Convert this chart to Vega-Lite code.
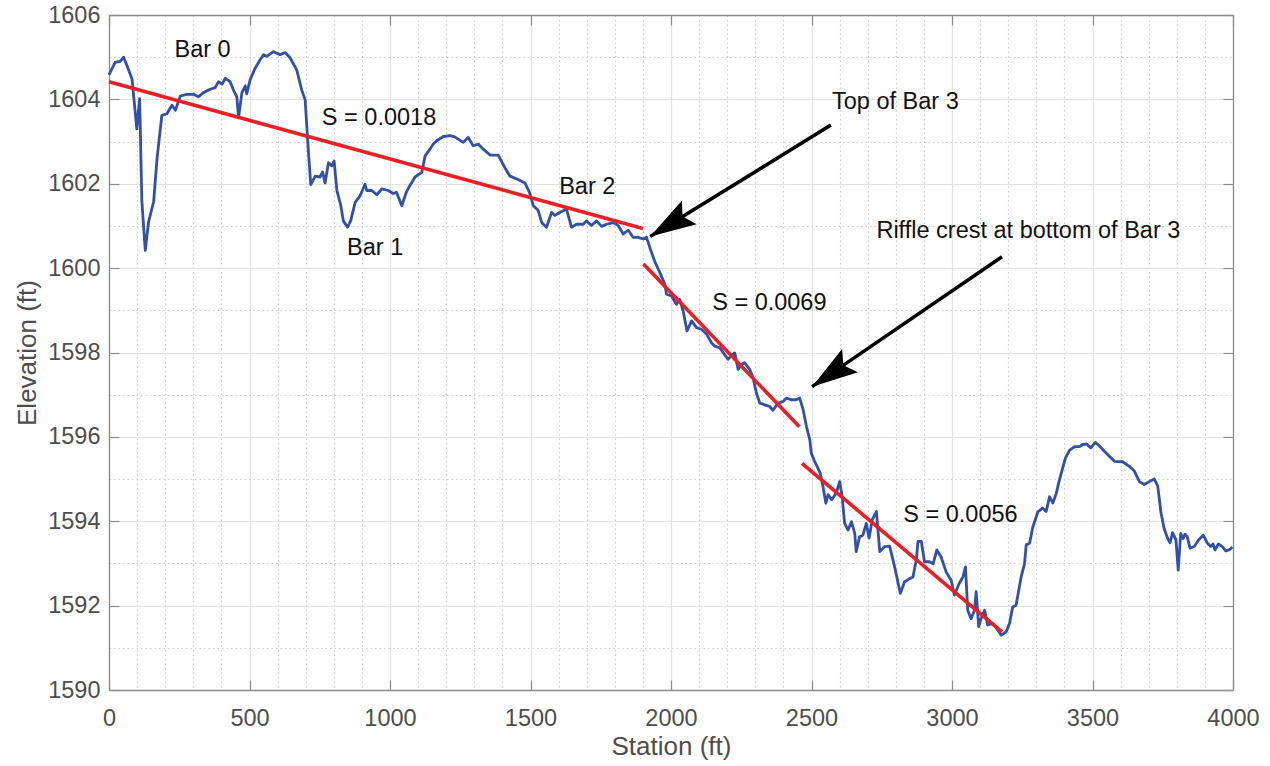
{
  "$schema": "https://vega.github.io/schema/vega-lite/v6.json",
  "width": 1124,
  "height": 675,
  "autosize": {"type": "none"},
  "padding": {"left": 109, "top": 15, "right": 37, "bottom": 76},
  "background": "white",
  "config": {"view": {"stroke": null}, "font": "Liberation Sans"},
  "datasets": {
    "profile": [
      {"station":0,"elevation":1604.58},{"station":22,"elevation":1604.88},{"station":40,"elevation":1604.9},{"station":52,"elevation":1605.0},{"station":64,"elevation":1604.8},{"station":82,"elevation":1604.48},{"station":99,"elevation":1603.3},{"station":109,"elevation":1604.02},{"station":117,"elevation":1601.58},{"station":129,"elevation":1600.42},{"station":141,"elevation":1601.1},{"station":159,"elevation":1601.58},{"station":171,"elevation":1602.6},{"station":188,"elevation":1603.62},{"station":206,"elevation":1603.66},{"station":224,"elevation":1603.86},{"station":236,"elevation":1603.74},{"station":254,"elevation":1604.08},{"station":277,"elevation":1604.12},{"station":301,"elevation":1604.12},{"station":318,"elevation":1604.06},{"station":336,"elevation":1604.16},{"station":360,"elevation":1604.24},{"station":378,"elevation":1604.28},{"station":390,"elevation":1604.42},{"station":402,"elevation":1604.36},{"station":414,"elevation":1604.5},{"station":431,"elevation":1604.42},{"station":443,"elevation":1604.22},{"station":455,"elevation":1604.06},{"station":461,"elevation":1603.56},{"station":473,"elevation":1604.16},{"station":485,"elevation":1604.32},{"station":490,"elevation":1604.13},{"station":502,"elevation":1604.46},{"station":520,"elevation":1604.74},{"station":538,"elevation":1604.94},{"station":550,"elevation":1605.06},{"station":561,"elevation":1605.02},{"station":585,"elevation":1605.13},{"station":609,"elevation":1605.06},{"station":627,"elevation":1605.11},{"station":645,"elevation":1604.98},{"station":668,"elevation":1604.7},{"station":686,"elevation":1604.22},{"station":698,"elevation":1603.99},{"station":704,"elevation":1603.36},{"station":710,"elevation":1602.73},{"station":718,"elevation":1601.98},{"station":734,"elevation":1602.18},{"station":751,"elevation":1602.16},{"station":760,"elevation":1602.28},{"station":769,"elevation":1602.02},{"station":781,"elevation":1602.5},{"station":793,"elevation":1602.42},{"station":801,"elevation":1602.54},{"station":811,"elevation":1601.84},{"station":825,"elevation":1601.48},{"station":834,"elevation":1601.12},{"station":849,"elevation":1600.97},{"station":860,"elevation":1601.12},{"station":876,"elevation":1601.56},{"station":894,"elevation":1601.72},{"station":911,"elevation":1601.99},{"station":917,"elevation":1601.84},{"station":935,"elevation":1601.84},{"station":953,"elevation":1601.74},{"station":971,"elevation":1601.88},{"station":994,"elevation":1601.84},{"station":1011,"elevation":1601.77},{"station":1023,"elevation":1601.8},{"station":1042,"elevation":1601.48},{"station":1058,"elevation":1601.8},{"station":1071,"elevation":1601.96},{"station":1089,"elevation":1602.16},{"station":1113,"elevation":1602.27},{"station":1125,"elevation":1602.66},{"station":1142,"elevation":1602.82},{"station":1154,"elevation":1602.94},{"station":1166,"elevation":1603.02},{"station":1190,"elevation":1603.12},{"station":1214,"elevation":1603.14},{"station":1230,"elevation":1603.11},{"station":1261,"elevation":1602.98},{"station":1278,"elevation":1603.1},{"station":1296,"elevation":1602.9},{"station":1314,"elevation":1602.94},{"station":1332,"elevation":1602.82},{"station":1356,"elevation":1602.68},{"station":1385,"elevation":1602.68},{"station":1409,"elevation":1602.38},{"station":1427,"elevation":1602.18},{"station":1456,"elevation":1602.1},{"station":1480,"elevation":1602.02},{"station":1496,"elevation":1601.8},{"station":1510,"elevation":1601.48},{"station":1527,"elevation":1601.37},{"station":1540,"elevation":1601.08},{"station":1557,"elevation":1600.97},{"station":1575,"elevation":1601.32},{"station":1587,"elevation":1601.25},{"station":1604,"elevation":1601.32},{"station":1628,"elevation":1601.4},{"station":1646,"elevation":1600.97},{"station":1664,"elevation":1601.04},{"station":1688,"elevation":1601.04},{"station":1699,"elevation":1601.12},{"station":1717,"elevation":1601.01},{"station":1735,"elevation":1601.12},{"station":1753,"elevation":1600.99},{"station":1771,"elevation":1601.04},{"station":1794,"elevation":1601.08},{"station":1812,"elevation":1601.01},{"station":1830,"elevation":1600.81},{"station":1848,"elevation":1600.9},{"station":1865,"elevation":1600.73},{"station":1883,"elevation":1600.73},{"station":1901,"elevation":1600.69},{"station":1913,"elevation":1600.73},{"station":1925,"elevation":1600.48},{"station":1942,"elevation":1600.16},{"station":1960,"elevation":1599.9},{"station":1978,"elevation":1599.62},{"station":1984,"elevation":1599.38},{"station":2002,"elevation":1599.34},{"station":2019,"elevation":1599.14},{"station":2031,"elevation":1599.26},{"station":2043,"elevation":1598.99},{"station":2057,"elevation":1598.51},{"station":2073,"elevation":1598.75},{"station":2091,"elevation":1598.59},{"station":2108,"elevation":1598.55},{"station":2127,"elevation":1598.43},{"station":2144,"elevation":1598.23},{"station":2156,"elevation":1598.15},{"station":2174,"elevation":1598.11},{"station":2191,"elevation":1597.95},{"station":2203,"elevation":1597.84},{"station":2215,"elevation":1597.92},{"station":2227,"elevation":1597.99},{"station":2239,"elevation":1597.6},{"station":2251,"elevation":1597.72},{"station":2262,"elevation":1597.76},{"station":2280,"elevation":1597.6},{"station":2292,"elevation":1597.4},{"station":2304,"elevation":1597.04},{"station":2316,"elevation":1596.8},{"station":2334,"elevation":1596.76},{"station":2351,"elevation":1596.72},{"station":2363,"elevation":1596.63},{"station":2381,"elevation":1596.8},{"station":2399,"elevation":1596.84},{"station":2411,"elevation":1596.92},{"station":2428,"elevation":1596.88},{"station":2446,"elevation":1596.88},{"station":2458,"elevation":1596.92},{"station":2470,"elevation":1596.65},{"station":2482,"elevation":1596.25},{"station":2494,"elevation":1595.93},{"station":2499,"elevation":1595.62},{"station":2511,"elevation":1595.42},{"station":2523,"elevation":1595.26},{"station":2531,"elevation":1595.14},{"station":2541,"elevation":1594.82},{"station":2551,"elevation":1594.43},{"station":2559,"elevation":1594.63},{"station":2572,"elevation":1594.51},{"station":2584,"elevation":1594.63},{"station":2592,"elevation":1594.75},{"station":2600,"elevation":1594.94},{"station":2609,"elevation":1594.59},{"station":2618,"elevation":1593.95},{"station":2630,"elevation":1593.79},{"station":2642,"elevation":1593.99},{"station":2654,"elevation":1593.71},{"station":2659,"elevation":1593.28},{"station":2671,"elevation":1593.63},{"station":2683,"elevation":1593.67},{"station":2695,"elevation":1593.95},{"station":2705,"elevation":1593.6},{"station":2716,"elevation":1594.03},{"station":2731,"elevation":1594.23},{"station":2743,"elevation":1593.28},{"station":2760,"elevation":1593.4},{"station":2778,"elevation":1593.41},{"station":2796,"elevation":1592.92},{"station":2816,"elevation":1592.29},{"station":2831,"elevation":1592.56},{"station":2849,"elevation":1592.64},{"station":2861,"elevation":1592.68},{"station":2873,"elevation":1593.08},{"station":2879,"elevation":1593.52},{"station":2891,"elevation":1593.52},{"station":2902,"elevation":1593.04},{"station":2920,"elevation":1593.04},{"station":2933,"elevation":1592.99},{"station":2946,"elevation":1593.32},{"station":2961,"elevation":1593.16},{"station":2979,"elevation":1592.8},{"station":2997,"elevation":1592.6},{"station":3009,"elevation":1592.25},{"station":3025,"elevation":1592.52},{"station":3039,"elevation":1592.68},{"station":3048,"elevation":1592.92},{"station":3056,"elevation":1591.89},{"station":3068,"elevation":1591.69},{"station":3080,"elevation":1591.89},{"station":3086,"elevation":1592.33},{"station":3095,"elevation":1591.5},{"station":3103,"elevation":1591.69},{"station":3116,"elevation":1591.89},{"station":3127,"elevation":1591.54},{"station":3145,"elevation":1591.58},{"station":3163,"elevation":1591.42},{"station":3175,"elevation":1591.3},{"station":3193,"elevation":1591.38},{"station":3205,"elevation":1591.58},{"station":3216,"elevation":1591.97},{"station":3228,"elevation":1592.01},{"station":3246,"elevation":1592.68},{"station":3258,"elevation":1592.99},{"station":3264,"elevation":1593.44},{"station":3276,"elevation":1593.48},{"station":3288,"elevation":1593.87},{"station":3306,"elevation":1594.23},{"station":3323,"elevation":1594.31},{"station":3335,"elevation":1594.23},{"station":3347,"elevation":1594.58},{"station":3359,"elevation":1594.43},{"station":3371,"elevation":1594.66},{"station":3380,"elevation":1594.92},{"station":3392,"elevation":1595.22},{"station":3404,"elevation":1595.5},{"station":3418,"elevation":1595.68},{"station":3436,"elevation":1595.77},{"station":3454,"elevation":1595.77},{"station":3465,"elevation":1595.82},{"station":3479,"elevation":1595.83},{"station":3494,"elevation":1595.74},{"station":3510,"elevation":1595.87},{"station":3524,"elevation":1595.79},{"station":3542,"elevation":1595.66},{"station":3560,"elevation":1595.54},{"station":3578,"elevation":1595.42},{"station":3607,"elevation":1595.41},{"station":3631,"elevation":1595.3},{"station":3649,"elevation":1595.19},{"station":3667,"elevation":1594.94},{"station":3684,"elevation":1594.87},{"station":3702,"elevation":1594.94},{"station":3720,"elevation":1595.0},{"station":3732,"elevation":1594.84},{"station":3744,"elevation":1594.19},{"station":3755,"elevation":1593.83},{"station":3767,"elevation":1593.6},{"station":3776,"elevation":1593.49},{"station":3785,"elevation":1593.73},{"station":3797,"elevation":1593.56},{"station":3805,"elevation":1592.84},{"station":3814,"elevation":1593.71},{"station":3822,"elevation":1593.59},{"station":3829,"elevation":1593.69},{"station":3837,"elevation":1593.64},{"station":3847,"elevation":1593.36},{"station":3862,"elevation":1593.4},{"station":3878,"elevation":1593.56},{"station":3894,"elevation":1593.67},{"station":3909,"elevation":1593.48},{"station":3921,"elevation":1593.4},{"station":3929,"elevation":1593.46},{"station":3936,"elevation":1593.32},{"station":3948,"elevation":1593.46},{"station":3962,"elevation":1593.4},{"station":3974,"elevation":1593.3},{"station":3986,"elevation":1593.32},{"station":3998,"elevation":1593.39}
    ],
    "fits": [
      {"slope":"0.0018","start_station":0,"start_elev":1604.42,"end_station":1900,"end_elev":1600.94},
      {"slope":"0.0069","start_station":1902,"start_elev":1600.1,"end_station":2457,"end_elev":1596.24},
      {"slope":"0.0056","start_station":2466,"start_elev":1595.37,"end_station":3178,"end_elev":1591.38}
    ],
    "arrows": [
      {"note":"Top of Bar 3","tail_station":2569,"tail_elev":1603.39,"tip_station":1926,"tip_elev":1600.75},
      {"note":"Riffle crest at bottom of Bar 3","tail_station":3178,"tail_elev":1600.27,"tip_station":2502,"tip_elev":1597.19}
    ],
    "callouts": [
      {"text":"Top of Bar 3","station":2573,"elevation":1603.94},
      {"text":"Riffle crest at bottom of Bar 3","station":2731,"elevation":1600.89}
    ],
    "labels": [
      {"text":"Bar 0","station":333,"elevation":1605.17},
      {"text":"S = 0.0018","station":961,"elevation":1603.55},
      {"text":"Bar 1","station":947,"elevation":1600.47},
      {"text":"Bar 2","station":1702,"elevation":1601.93},
      {"text":"S = 0.0069","station":2350,"elevation":1599.17},
      {"text":"S = 0.0056","station":3030,"elevation":1594.15}
    ]
  },
  "layer": [
    {
      "data": {"name": "profile"},
      "mark": {"type": "line", "color": "#3250a5", "strokeWidth": 2.8, "strokeJoin": "round"},
      "encoding": {
        "x": {
          "field": "station", "type": "quantitative",
          "scale": {"domain": [0, 4000], "nice": false, "zero": false},
          "axis": {
            "orient": "bottom",
            "values": [0,100,200,300,400,500,600,700,800,900,1000,1100,1200,1300,1400,1500,1600,1700,1800,1900,2000,2100,2200,2300,2400,2500,2600,2700,2800,2900,3000,3100,3200,3300,3400,3500,3600,3700,3800,3900,4000],
            "format": "d",
            "labelExpr": "datum.value % 500 === 0 ? datum.label : ''",
            "labelFlush": false, "labelOverlap": false,
            "labelFont": "Liberation Sans", "labelFontSize": 23.5, "labelColor": "#4d4d4d",
            "labelPadding": 26,
            "tickSize": -10, "tickColor": "#8c8c8c", "tickWidth": 1.2,
            "tickOpacity": {"condition": {"test": "datum.value % 500 === 0", "value": 1}, "value": 0},
            "grid": true,
            "gridColor": {"condition": {"test": "datum.value % 500 === 0", "value": "#e2e2e2"}, "value": "#cdcdcd"},
            "gridDash": {"condition": {"test": "datum.value % 500 === 0", "value": []}, "value": [1.5, 3]},
            "gridWidth": 1.2,
            "domainColor": "#8c8c8c", "domainWidth": 1.3,
            "title": "Station (ft)", "titleFont": "Liberation Sans", "titleFontSize": 26,
            "titleFontWeight": "normal", "titleColor": "#4d4d4d", "titlePadding": 4
          }
        },
        "y": {
          "field": "elevation", "type": "quantitative",
          "scale": {"domain": [1590, 1606], "nice": false, "zero": false},
          "axis": {
            "orient": "left",
            "values": [1590,1590.5,1591,1591.5,1592,1592.5,1593,1593.5,1594,1594.5,1595,1595.5,1596,1596.5,1597,1597.5,1598,1598.5,1599,1599.5,1600,1600.5,1601,1601.5,1602,1602.5,1603,1603.5,1604,1604.5,1605,1605.5,1606],
            "format": "d",
            "labelExpr": "datum.value % 2 === 0 ? datum.label : ''",
            "labelFlush": false, "labelOverlap": false,
            "labelFont": "Liberation Sans", "labelFontSize": 23.5, "labelColor": "#4d4d4d",
            "labelPadding": 19,
            "tickSize": -10, "tickColor": "#8c8c8c", "tickWidth": 1.2,
            "tickOpacity": {"condition": {"test": "datum.value % 2 === 0", "value": 1}, "value": 0},
            "grid": true,
            "gridColor": {"condition": {"test": "datum.value % 2 === 0", "value": "#e2e2e2"}, "value": "#cdcdcd"},
            "gridDash": {"condition": {"test": "datum.value % 2 === 0", "value": []}, "value": [1.5, 3]},
            "gridWidth": 1.2,
            "domainColor": "#8c8c8c", "domainWidth": 1.3,
            "title": "Elevation (ft)", "titleFont": "Liberation Sans", "titleFontSize": 26,
            "titleFontWeight": "normal", "titleColor": "#4d4d4d", "titlePadding": 7
          }
        }
      }
    },
    {
      "data": {"name": "fits"},
      "mark": {"type": "rule", "color": "#eb1e23", "strokeWidth": 3.6, "strokeCap": "butt"},
      "encoding": {
        "x": {
          "field": "start_station", "type": "quantitative",
          "scale": {"domain": [0, 4000], "nice": false, "zero": false},
          "axis": {
            "orient": "top",
            "values": [0,500,1000,1500,2000,2500,3000,3500,4000],
            "labels": false, "grid": false,
            "tickSize": -10, "tickColor": "#8c8c8c", "tickWidth": 1.2,
            "domainColor": "#8c8c8c", "domainWidth": 1.3, "title": null
          }
        },
        "x2": {"field": "end_station"},
        "y": {
          "field": "start_elev", "type": "quantitative",
          "scale": {"domain": [1590, 1606], "nice": false, "zero": false},
          "axis": {
            "orient": "right",
            "values": [1590,1592,1594,1596,1598,1600,1602,1604,1606],
            "labels": false, "grid": false,
            "tickSize": -10, "tickColor": "#8c8c8c", "tickWidth": 1.2,
            "domainColor": "#8c8c8c", "domainWidth": 1.3, "title": null
          }
        },
        "y2": {"field": "end_elev"}
      }
    },
    {
      "data": {"name": "arrows"},
      "mark": {"type": "rule", "color": "black", "strokeWidth": 3.5},
      "encoding": {
        "x": {"field": "tail_station", "type": "quantitative", "scale": {"domain": [0, 4000], "nice": false, "zero": false}, "axis": null},
        "x2": {"field": "tip_station"},
        "y": {"field": "tail_elev", "type": "quantitative", "scale": {"domain": [1590, 1606], "nice": false, "zero": false}, "axis": null},
        "y2": {"field": "tip_elev"}
      }
    },
    {
      "data": {"name": "arrows"},
      "transform": [{"filter": "datum.note === 'Top of Bar 3'"}],
      "mark": {"type": "point", "shape": "M0,0L-2,-0.61L-1.65,0L-2,0.61Z", "size": 2116, "angle": 148.3, "filled": true, "color": "black", "opacity": 1, "strokeWidth": 0},
      "encoding": {
        "x": {"field": "tip_station", "type": "quantitative", "scale": {"domain": [0, 4000], "nice": false, "zero": false}, "axis": null},
        "y": {"field": "tip_elev", "type": "quantitative", "scale": {"domain": [1590, 1606], "nice": false, "zero": false}, "axis": null}
      }
    },
    {
      "data": {"name": "arrows"},
      "transform": [{"filter": "datum.note !== 'Top of Bar 3'"}],
      "mark": {"type": "point", "shape": "M0,0L-2,-0.61L-1.65,0L-2,0.61Z", "size": 2116, "angle": 145.6, "filled": true, "color": "black", "opacity": 1, "strokeWidth": 0},
      "encoding": {
        "x": {"field": "tip_station", "type": "quantitative", "scale": {"domain": [0, 4000], "nice": false, "zero": false}, "axis": null},
        "y": {"field": "tip_elev", "type": "quantitative", "scale": {"domain": [1590, 1606], "nice": false, "zero": false}, "axis": null}
      }
    },
    {
      "data": {"name": "labels"},
      "mark": {"type": "text", "align": "center", "baseline": "middle", "font": "Liberation Sans", "fontSize": 23.5, "color": "#111111"},
      "encoding": {
        "x": {"field": "station", "type": "quantitative", "scale": {"domain": [0, 4000], "nice": false, "zero": false}, "axis": null},
        "y": {"field": "elevation", "type": "quantitative", "scale": {"domain": [1590, 1606], "nice": false, "zero": false}, "axis": null},
        "text": {"field": "text"}
      }
    },
    {
      "data": {"name": "callouts"},
      "mark": {"type": "text", "align": "left", "baseline": "middle", "font": "Liberation Sans", "fontSize": 23.5, "color": "#111111"},
      "encoding": {
        "x": {"field": "station", "type": "quantitative", "scale": {"domain": [0, 4000], "nice": false, "zero": false}, "axis": null},
        "y": {"field": "elevation", "type": "quantitative", "scale": {"domain": [1590, 1606], "nice": false, "zero": false}, "axis": null},
        "text": {"field": "text"}
      }
    }
  ],
  "resolve": {"axis": {"x": "independent", "y": "independent"}}
}
